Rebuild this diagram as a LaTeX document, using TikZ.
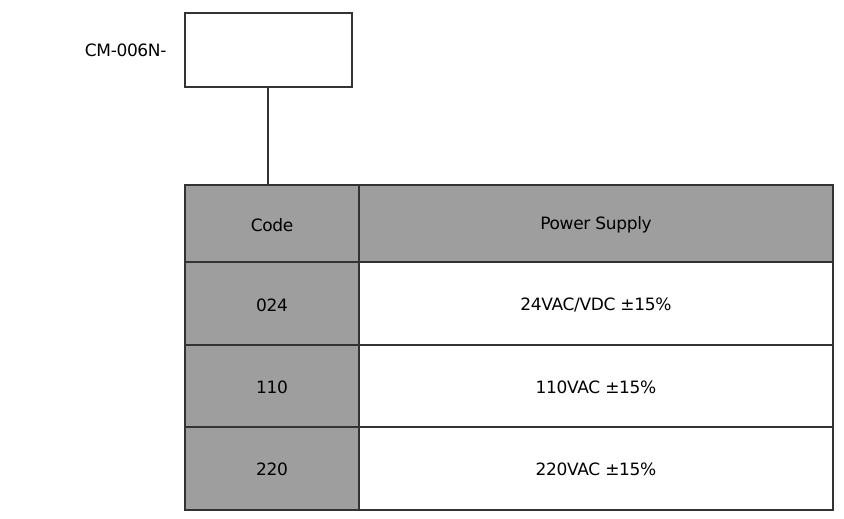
\documentclass[tikz,border=0pt]{standalone}
\usepackage{fontspec}
\setmainfont{DejaVu Sans}
\begin{document}
\begin{tikzpicture}[x=1pt,y=-1pt,
  cell/.style={draw=black!80,line width=1.5pt},
  gray/.style={cell,fill=black!38},
  txt/.style={font=\fontsize{17}{20}\selectfont\addfontfeature{LetterSpace=-2}}]
\useasboundingbox (0,0) rectangle (844,519);
\node[txt,anchor=east] (lbl) at (170,50) {CM-006N-};
\draw[cell] (185,13) rectangle (352,87);
\coordinate (bb) at (268,87);
\coordinate (tt) at (268,185);
\draw[cell] (bb) -- (tt);
\draw[gray] (185,185) rectangle (833,262);
\draw[gray] (185,262) rectangle (359,510);
\draw[cell] (359,262) rectangle (833,510);
\draw[cell] (359,185) -- (359,262);
\foreach \y in {345,427} \draw[cell] (185,\y) -- (833,\y);
\node[txt] (h1) at (272,225) {Code};
\node[txt] (h2) at (596,225) {Power Supply};
\node[txt] (c1) at (272,305) {024};
\node[txt] (p1) at (596,305) {24VAC/VDC ±15\%};
\node[txt] (c2) at (272,387) {110};
\node[txt] (p2) at (596,387) {110VAC ±15\%};
\node[txt] (c3) at (272,469) {220};
\node[txt] (p3) at (596,469) {220VAC ±15\%};
\end{tikzpicture}
\end{document}
